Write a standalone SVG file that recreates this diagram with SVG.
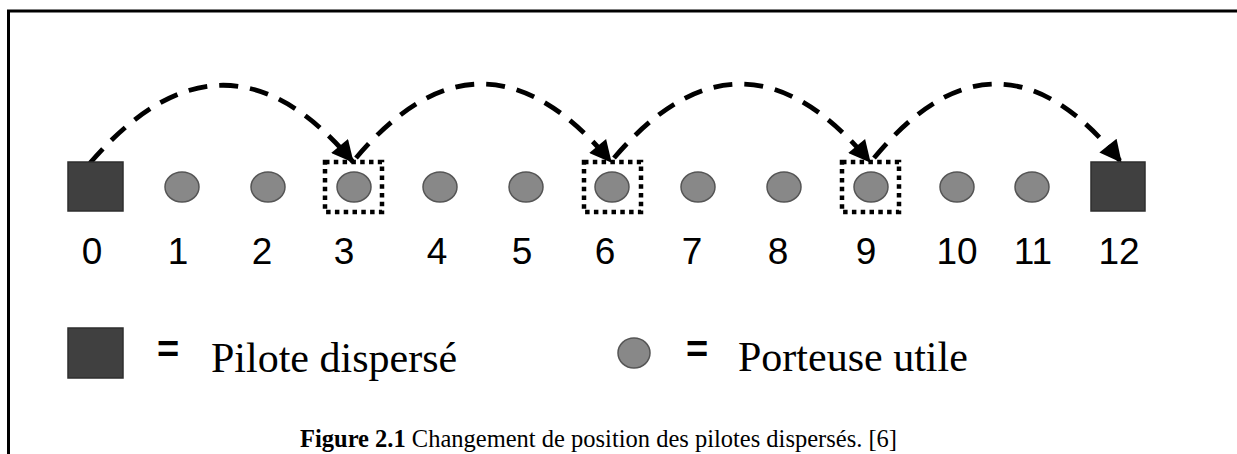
<svg xmlns="http://www.w3.org/2000/svg" width="1237" height="454" viewBox="0 0 1237 454">
<style>
.pil{fill:#404040;stroke:#2e2e2e;stroke-width:1.5}
.car{fill:#888888;stroke:#555555;stroke-width:1.5}
.dot{fill:none;stroke:#000;stroke-width:4.5;stroke-dasharray:4.5 4.3}
.arc{fill:none;stroke:#000;stroke-width:4.8;stroke-dasharray:19 12;marker-end:url(#ah)}
.num{font-family:"Liberation Sans",Arial,sans-serif;font-size:37px;fill:#000;text-anchor:middle}
.eq{font-family:"Liberation Sans",Arial,sans-serif;font-size:38px;font-weight:bold;fill:#000}
.leg{font-family:"Liberation Serif","Times New Roman",serif;font-size:42px;fill:#000}
.cap{font-family:"Liberation Serif","Times New Roman",serif;font-size:24.5px;fill:#000}
</style>
<defs>
<marker id="ah" markerUnits="userSpaceOnUse" viewBox="0 0 20 20" refX="19" refY="10" markerWidth="24" markerHeight="22" orient="auto">
<path d="M0,0 L20,10 L0,20 z" fill="#000"/>
</marker>
</defs>
<rect width="1237" height="454" fill="#fff"/>
<path d="M8.5,454 V11 H1237" fill="none" stroke="#000" stroke-width="3"/>
<g id="connectors">
<path class="arc" d="M90,163 Q224,8 353,162"/>
<path class="arc" d="M356,158 Q483,8 611,162"/>
<path class="arc" d="M614,158 Q742,8 870,162"/>
<path class="arc" d="M874,158 Q998,8 1121,162"/>
</g>
<g id="n0"><rect class="pil" x="68" y="162" width="55" height="49"/><text class="num" x="92" y="264">0</text></g>
<g id="n1"><ellipse class="car" cx="182" cy="187" rx="17" ry="15"/><text class="num" x="178" y="264">1</text></g>
<g id="n2"><ellipse class="car" cx="268" cy="187" rx="17" ry="15"/><text class="num" x="262" y="264">2</text></g>
<g id="n3"><rect class="dot" x="325" y="162" width="57" height="50"/><ellipse class="car" cx="354" cy="187" rx="17" ry="15"/><text class="num" x="344" y="264">3</text></g>
<g id="n4"><ellipse class="car" cx="440" cy="187" rx="17" ry="15"/><text class="num" x="437" y="264">4</text></g>
<g id="n5"><ellipse class="car" cx="526" cy="187" rx="17" ry="15"/><text class="num" x="522" y="264">5</text></g>
<g id="n6"><rect class="dot" x="584" y="162" width="57" height="50"/><ellipse class="car" cx="612" cy="187" rx="17" ry="15"/><text class="num" x="605" y="264">6</text></g>
<g id="n7"><ellipse class="car" cx="698" cy="187" rx="17" ry="15"/><text class="num" x="692" y="264">7</text></g>
<g id="n8"><ellipse class="car" cx="784" cy="187" rx="17" ry="15"/><text class="num" x="778" y="264">8</text></g>
<g id="n9"><rect class="dot" x="842" y="162" width="57" height="50"/><ellipse class="car" cx="871" cy="187" rx="17" ry="15"/><text class="num" x="866" y="264">9</text></g>
<g id="n10"><ellipse class="car" cx="957" cy="187" rx="17" ry="15"/><text class="num" x="957" y="264">10</text></g>
<g id="n11"><ellipse class="car" cx="1032" cy="187" rx="17" ry="15"/><text class="num" x="1033" y="264">11</text></g>
<g id="n12"><rect class="pil" x="1091" y="162" width="54" height="49"/><text class="num" x="1119" y="264">12</text></g>
<g id="legend">
<rect class="pil" x="68" y="328" width="55" height="50"/>
<text class="eq" x="157" y="362">=</text>
<text class="leg" x="211" y="372">Pilote dispersé</text>
<ellipse class="car" cx="634" cy="353" rx="16" ry="15"/>
<text class="eq" x="686" y="362">=</text>
<text class="leg" x="738" y="371">Porteuse utile</text>
</g>
<text class="cap" x="300" y="447"><tspan font-weight="bold">Figure 2.1</tspan> Changement de position des pilotes dispersés. [6]</text>
</svg>
